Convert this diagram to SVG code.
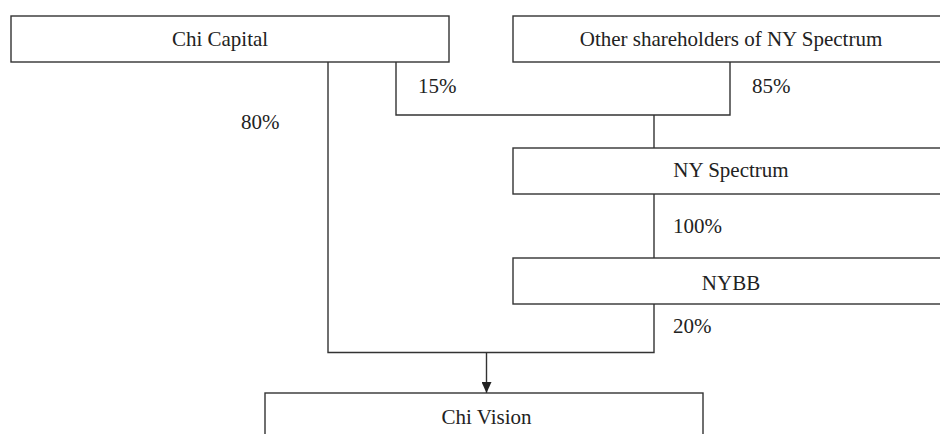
<svg xmlns="http://www.w3.org/2000/svg" width="940" height="434" viewBox="0 0 940 434">
<defs>
<style>
.box{fill:#fff;stroke:#333;stroke-width:1.4}
.t{font-family:"Liberation Serif","Times New Roman",serif;font-size:21px;fill:#222}
.c{text-anchor:middle}
.ln{fill:none;stroke:#333;stroke-width:1.4}
</style>
<marker id="ah" markerWidth="12" markerHeight="10" refX="11" refY="5" orient="auto" markerUnits="userSpaceOnUse">
<path d="M0,0 L11,5 L0,10 Z" fill="#222"/>
</marker>
</defs>
<rect width="940" height="434" fill="#fff"/>
<g id="connectors">
<polyline class="ln" points="328,62 328,352.5 654,352.5 654,304"/>
<polyline class="ln" points="396,62 396,115 730,115 730,62"/>
<line class="ln" x1="654" y1="115" x2="654" y2="148"/>
<line class="ln" x1="654" y1="194" x2="654" y2="258"/>
<line class="ln" x1="486.5" y1="352.5" x2="486.5" y2="393" marker-end="url(#ah)"/>
<text class="t" x="418" y="93">15%</text>
<text class="t" x="241" y="129">80%</text>
<text class="t" x="752" y="93">85%</text>
<text class="t" x="673" y="233">100%</text>
<text class="t" x="673" y="333">20%</text>
</g>
<g id="chi-capital">
<rect class="box" x="11" y="16" width="438" height="46"/>
<text class="t c" x="220" y="46">Chi Capital</text>
</g>
<g id="other-shareholders">
<rect class="box" x="513" y="16" width="440" height="46"/>
<text class="t c" x="731" y="46">Other shareholders of NY Spectrum</text>
</g>
<g id="ny-spectrum">
<rect class="box" x="513" y="148" width="440" height="46"/>
<text class="t c" x="731" y="177">NY Spectrum</text>
</g>
<g id="nybb">
<rect class="box" x="513" y="258" width="440" height="46"/>
<text class="t c" x="731" y="290">NYBB</text>
</g>
<g id="chi-vision">
<rect class="box" x="265" y="393" width="438" height="60"/>
<text class="t c" x="486.5" y="424">Chi Vision</text>
</g>
</svg>
